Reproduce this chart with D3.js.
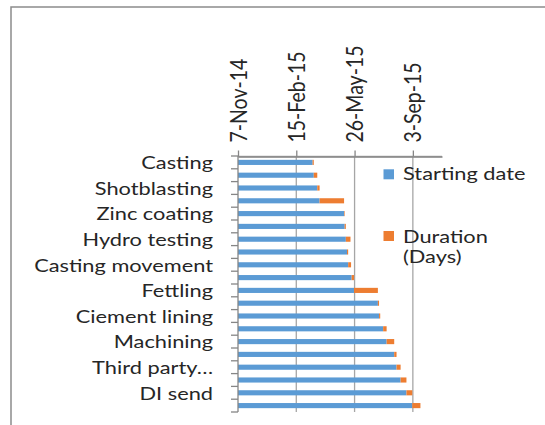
<!DOCTYPE html>
<html>
<head>
<meta charset="utf-8">
<script src="https://cdn.jsdelivr.net/npm/d3@7/dist/d3.min.js"></script>
<style>
  html, body { margin: 0; padding: 0; background: #fff; }
  svg { display: block; }
  text { font-family: Lato, "Open Sans", sans-serif; fill: #262626; }
</style>
</head>
<body>
<svg id="chart" width="545" height="425"></svg>
<script>
// Task rows, top to bottom (only every second row carries a label)
const taskLabels = [
  "Casting", "", "Shotblasting", "", "Zinc coating", "", "Hydro testing", "",
  "Casting movement", "", "Fettling", "", "Ciement lining", "", "Machining", "",
  "Third party…", "", "DI send", ""
];
// Start date of each task
const startDates = [
  "2015-03-15", "2015-03-17", "2015-03-23", "2015-03-27", "2015-05-08",
  "2015-05-09", "2015-05-11", "2015-05-13", "2015-05-15", "2015-05-21",
  "2015-05-25", "2015-07-05", "2015-07-07", "2015-07-14", "2015-07-20",
  "2015-08-02", "2015-08-06", "2015-08-13", "2015-08-23", "2015-09-02"
];
// Duration of each task in days
const durations = [2, 6, 4, 42, 1, 2, 8, 2, 5, 4, 41, 2, 2, 6, 13, 4, 7, 10, 10, 14];
// Date axis
const axisStart = "2014-11-07";
const axisEnd = "2015-10-23";
const tickDates = ["2014-11-07", "2015-02-15", "2015-05-26", "2015-09-03"];
const tickLabels = ["7-Nov-14", "15-Feb-15", "26-May-15", "3-Sep-15"];
const seriesNames = [["Starting date"], ["Duration", "(Days)"]];
const seriesColors = ["#5B9BD5", "#ED7D31"];

const parse = d3.utcParse("%Y-%m-%d");
const rows = taskLabels.map((label, i) => {
  const start = parse(startDates[i]);
  return { i, label, start, end: d3.utcDay.offset(start, durations[i]) };
});

const svg = d3.select("#chart");
const stretch = 1.26;     // horizontal stretch for upright text
const labelSize = 17.3;   // upright text size
const tickSize = 19.5;    // rotated date labels
const tickStretch = 1.14;

// chart frame
svg.append("path")
  .attr("d", "M11,425 L11,7 L545,7")
  .attr("fill", "none").attr("stroke", "#8c8c8c").attr("stroke-width", 1.5);

const plot = { left: 238, right: 442, top: 156, bottom: 412 };

const x = d3.scaleUtc()
  .domain([parse(axisStart), parse(axisEnd)])
  .range([plot.left, plot.right]);

const y = d3.scaleBand()
  .domain(d3.range(taskLabels.length))
  .range([plot.top, plot.bottom])
  .paddingInner(0.6)
  .paddingOuter(0.3);

// vertical gridlines
svg.append("g").selectAll("line")
  .data(tickDates.map(parse).slice(1))
  .join("line")
  .attr("x1", d => x(d)).attr("x2", d => x(d))
  .attr("y1", plot.top).attr("y2", plot.bottom)
  .attr("stroke", "#a6a6a6").attr("stroke-width", 1.3);

// top horizontal edge of the plot
svg.append("line")
  .attr("x1", plot.left).attr("x2", plot.right)
  .attr("y1", plot.top + 0.5).attr("y2", plot.top + 0.5)
  .attr("stroke", "#a6a6a6").attr("stroke-width", 1.3);

// bars: start segment then duration segment
const bars = svg.append("g");
bars.selectAll("rect.start")
  .data(rows).join("rect").attr("class", "start")
  .attr("x", x(parse(axisStart)))
  .attr("y", d => y(d.i))
  .attr("width", d => x(d.start) - x(parse(axisStart)))
  .attr("height", y.bandwidth())
  .attr("fill", seriesColors[0]);
bars.selectAll("rect.dur")
  .data(rows).join("rect").attr("class", "dur")
  .attr("x", d => x(d.start))
  .attr("y", d => y(d.i))
  .attr("width", d => x(d.end) - x(d.start))
  .attr("height", y.bandwidth())
  .attr("fill", seriesColors[1]);

// top date axis
const xAxis = d3.axisTop(x)
  .tickValues(tickDates.map(parse))
  .tickFormat((d, i) => tickLabels[i])
  .tickSize(6).tickSizeOuter(0);
const gx = svg.append("g")
  .attr("transform", `translate(0,${plot.top + 0.5})`)
  .call(xAxis);
gx.select(".domain").attr("stroke", "#868686").attr("stroke-width", 1.3);
gx.selectAll(".tick line").attr("stroke", "#868686").attr("stroke-width", 1.3);
gx.selectAll(".tick text")
  .attr("x", null).attr("y", null).attr("dy", "0.36em")
  .attr("text-anchor", "start")
  .attr("transform", `translate(0,-14) scale(${tickStretch},1) rotate(-90)`)
  .style("font-size", tickSize + "px")
  .style("font-family", "Lato, 'Open Sans', sans-serif")
  .style("fill", "#262626");

// left category axis (ticks at row boundaries)
const boundaries = d3.range(taskLabels.length + 1)
  .map(k => plot.top + k * (plot.bottom - plot.top) / taskLabels.length);
const gy = svg.append("g");
gy.append("line")
  .attr("x1", plot.left).attr("x2", plot.left)
  .attr("y1", plot.top).attr("y2", plot.bottom)
  .attr("stroke", "#868686").attr("stroke-width", 1.3);
gy.selectAll("line.tk").data(boundaries).join("line").attr("class", "tk")
  .attr("x1", plot.left - 7).attr("x2", plot.left)
  .attr("y1", d => d).attr("y2", d => d)
  .attr("stroke", "#868686").attr("stroke-width", 1.3);
gy.selectAll("text").data(rows.filter(r => r.label)).join("text")
  .attr("transform", d => `translate(213,${y(d.i) + y.bandwidth() / 2 + 0.5}) scale(${stretch},1)`)
  .attr("dy", "0.36em")
  .attr("text-anchor", "end")
  .style("font-size", labelSize + "px")
  .text(d => d.label);

// legend: marker box and first-line baseline per entry
const legend = svg.append("g");
const markerTop = [169.3, 231];
const firstBaseline = [180, 242.7];
seriesNames.forEach((lines, k) => {
  legend.append("rect")
    .attr("x", 383.5).attr("y", markerTop[k])
    .attr("width", 10.5).attr("height", 10)
    .attr("fill", seriesColors[k]);
  legend.append("text")
    .attr("transform", `translate(403,${firstBaseline[k]}) scale(${stretch},1)`)
    .style("font-size", labelSize + "px")
    .selectAll("tspan").data(lines).join("tspan")
    .attr("x", 0)
    .attr("y", (d, j) => j * 20.5)
    .text(d => d);
});
</script>
</body>
</html>
